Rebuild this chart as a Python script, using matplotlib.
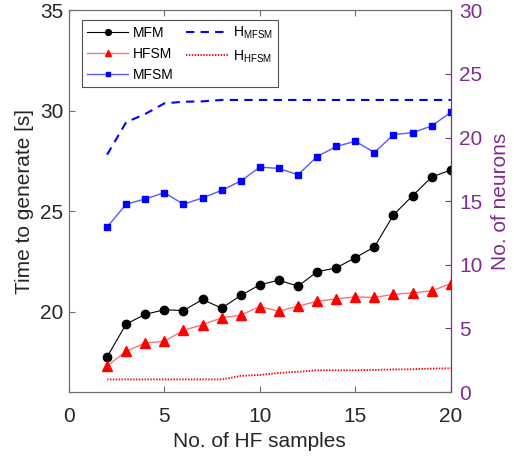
import matplotlib
matplotlib.use("Agg")
import matplotlib.pyplot as plt

plt.rcParams['font.family'] = ['Liberation Sans', 'DejaVu Sans']
plt.rcParams['mathtext.fontset'] = 'custom'
plt.rcParams['mathtext.rm'] = 'Liberation Sans'

x = list(range(2, 21))
mfm = [17.75, 19.39, 19.87, 20.10, 20.06, 20.61, 20.18, 20.81, 21.34, 21.57,
       21.27, 21.99, 22.18, 22.69, 23.22, 24.82, 25.77, 26.70, 27.05]
hfsm = [17.31, 18.03, 18.45, 18.53, 19.07, 19.36, 19.70, 19.83, 20.26, 20.03,
        20.28, 20.52, 20.64, 20.74, 20.71, 20.87, 20.94, 21.04, 21.40]
mfsm = [24.21, 25.35, 25.61, 25.92, 25.35, 25.66, 26.04, 26.50, 27.19, 27.13,
        26.81, 27.72, 28.22, 28.48, 27.92, 28.81, 28.91, 29.24, 29.92]
h_mfsm = [18.65, 21.2, 21.85, 22.68, 22.81, 22.84, 22.95, 22.95, 22.95, 22.95,
          22.95, 22.95, 22.95, 22.95, 22.95, 22.95, 22.95, 22.95, 22.95]
h_hfsm = [1.0, 1.0, 1.0, 1.0, 1.0, 1.0, 1.0, 1.28, 1.35, 1.51,
          1.6, 1.72, 1.72, 1.72, 1.75, 1.78, 1.8, 1.85, 1.88]

xticks = [0, 5, 10, 15, 20]
lticks = [20, 25, 30, 35]
rticks = [0, 5, 10, 15, 20, 25, 30]

txt = '#262626'
purple = '#7E2F8E'
spine = '#6e6e6e'

fig = plt.figure(figsize=(5.14, 4.63), dpi=100)
ax = fig.add_axes([0.134, 0.153, 0.743, 0.825])
ax2 = ax.twinx()

l1, = ax.plot(x, mfm, '-', color='black', lw=0.8, marker='o', ms=6, mfc='black', mec='black')
l2, = ax.plot(x, hfsm, '-', color=(1, 0.45, 0.45), lw=1.0, marker='^', ms=7, mfc='red', mec='red')
l3, = ax.plot(x, mfsm, '-', color=(0.35, 0.35, 1.0), lw=1.0, marker='s', ms=5, mfc='blue', mec='blue')
l4, = ax2.plot(x, h_mfsm, '--', color='blue', lw=1.5, dashes=(4, 3))
l5, = ax2.plot(x, h_hfsm, ':', color='red', lw=1.3, dashes=(0.8, 0.8))

ax.set_xlim(0, 20)
ax.set_ylim(16, 35)
ax2.set_ylim(0, 30)
ax.set_xticks(xticks)
ax.set_yticks(lticks)
ax2.set_yticks(rticks)

ax.tick_params(axis='both', direction='in', labelsize=15, colors=txt, length=4, width=0.8)
ax.tick_params(axis='x', top=True, color=spine, pad=11)
ax.tick_params(axis='y', color=spine, pad=4)
ax2.tick_params(axis='y', direction='in', labelsize=15, colors=purple, length=4, width=0.8, pad=6)

for s in ['left', 'top', 'bottom']:
    ax2.spines[s].set_color(spine)
    ax2.spines[s].set_linewidth(0.8)
    ax.spines[s].set_color(spine)
    ax.spines[s].set_linewidth(0.8)
ax2.spines['right'].set_color(purple)
ax2.spines['right'].set_linewidth(0.8)

ax.set_xlabel('No. of HF samples', fontsize=15, color=txt, labelpad=4)
ax.set_ylabel('Time to generate [s]', fontsize=15, color=txt, labelpad=4)
ax2.set_ylabel('No. of neurons', fontsize=15, color=purple, labelpad=6)

leg = ax2.legend([l1, l2, l3, l4, l5],
                 ['MFM', 'HFSM', 'MFSM', r'H$_{\mathrm{MFSM}}$', r'H$_{\mathrm{HFSM}}$'],
                 ncol=2, loc='upper left', bbox_to_anchor=(0.034, 0.974),
                 borderaxespad=0.0,
                 fontsize=10, frameon=True, fancybox=False, edgecolor=txt,
                 handlelength=3.0, handletextpad=0.35, columnspacing=0.9,
                 labelspacing=0.5, borderpad=0.35, markerscale=0.7)
leg.get_frame().set_linewidth(0.8)

fig.savefig('out.png', dpi=100)
